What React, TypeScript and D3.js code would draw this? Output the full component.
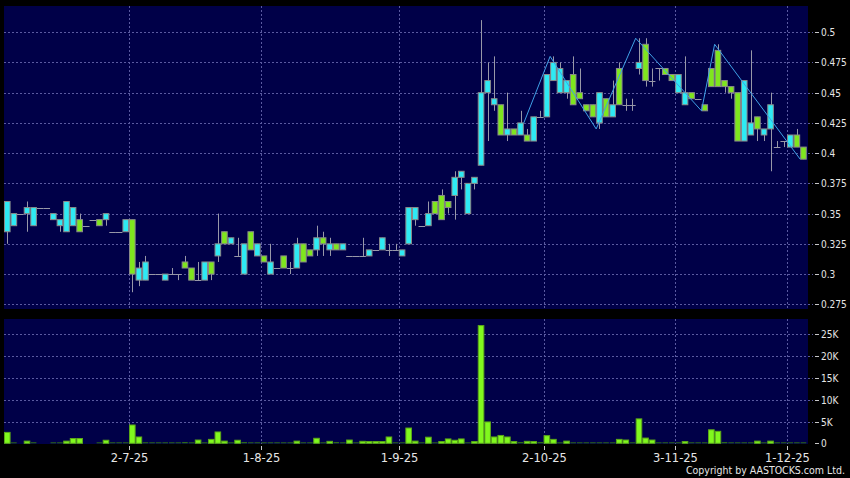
import React from "react";
import * as d3 from "d3";

const opens = [
  0.335, 0.34, 0.35, 0.35, 0.34, 0.355, 0.355, 0.345, 0.34, 0.335,
  0.34, 0.345, 0.34, 0.345, 0.345, 0.345, 0.335, 0.335, 0.335, 0.345,
  0.295, 0.295, 0.3, 0.3, 0.295, 0.3, 0.3, 0.31, 0.305, 0.295,
  0.295, 0.31, 0.315, 0.335, 0.325, 0.315, 0.3, 0.335, 0.315, 0.315,
  0.3, 0.305, 0.315, 0.305, 0.305, 0.325, 0.32, 0.32, 0.33, 0.32,
  0.325, 0.32, 0.315, 0.315, 0.315, 0.315, 0.32, 0.32, 0.32, 0.32,
  0.315, 0.325, 0.345, 0.34, 0.34, 0.36, 0.365, 0.36, 0.365, 0.38,
  0.35, 0.375, 0.39, 0.45, 0.44, 0.44, 0.415, 0.42, 0.415, 0.415,
  0.41, 0.43, 0.43, 0.46, 0.45, 0.45, 0.465, 0.45, 0.44, 0.44,
  0.425, 0.445, 0.43, 0.47, 0.44, 0.44, 0.47, 0.49, 0.46, 0.47,
  0.47, 0.465, 0.45, 0.44, 0.45, 0.445, 0.44, 0.47, 0.485, 0.46,
  0.455, 0.45, 0.41, 0.415, 0.43, 0.415, 0.42, 0.405, 0.41, 0.405,
  0.415, 0.405,
];
const highs = [
  0.36, 0.35, 0.35, 0.36, 0.355, 0.355, 0.355, 0.35, 0.345, 0.36,
  0.355, 0.35, 0.34, 0.345, 0.345, 0.35, 0.335, 0.335, 0.345, 0.345,
  0.31, 0.315, 0.3, 0.3, 0.3, 0.305, 0.3, 0.315, 0.305, 0.31,
  0.31, 0.31, 0.35, 0.335, 0.33, 0.33, 0.325, 0.335, 0.325, 0.315,
  0.325, 0.305, 0.315, 0.31, 0.33, 0.325, 0.32, 0.34, 0.335, 0.33,
  0.325, 0.325, 0.315, 0.315, 0.33, 0.32, 0.32, 0.33, 0.325, 0.325,
  0.32, 0.355, 0.355, 0.34, 0.36, 0.36, 0.37, 0.36, 0.385, 0.385,
  0.375, 0.38, 0.51, 0.475, 0.48, 0.44, 0.45, 0.42, 0.435, 0.42,
  0.43, 0.435, 0.465, 0.48, 0.475, 0.46, 0.48, 0.47, 0.44, 0.44,
  0.45, 0.445, 0.46, 0.475, 0.445, 0.445, 0.495, 0.495, 0.47, 0.47,
  0.47, 0.465, 0.465, 0.48, 0.45, 0.445, 0.44, 0.47, 0.49, 0.46,
  0.455, 0.45, 0.46, 0.485, 0.43, 0.42, 0.45, 0.41, 0.41, 0.415,
  0.42, 0.405,
];
const lows = [
  0.325, 0.34, 0.35, 0.335, 0.34, 0.355, 0.355, 0.345, 0.335, 0.335,
  0.34, 0.335, 0.34, 0.345, 0.34, 0.34, 0.335, 0.335, 0.335, 0.285,
  0.29, 0.295, 0.3, 0.3, 0.295, 0.3, 0.295, 0.305, 0.295, 0.295,
  0.295, 0.295, 0.31, 0.325, 0.325, 0.315, 0.3, 0.32, 0.315, 0.31,
  0.3, 0.305, 0.305, 0.3, 0.305, 0.31, 0.315, 0.315, 0.315, 0.315,
  0.32, 0.32, 0.315, 0.315, 0.315, 0.315, 0.32, 0.32, 0.315, 0.32,
  0.315, 0.325, 0.34, 0.34, 0.34, 0.35, 0.345, 0.35, 0.345, 0.37,
  0.35, 0.37, 0.39, 0.41, 0.435, 0.415, 0.41, 0.415, 0.415, 0.41,
  0.41, 0.43, 0.43, 0.46, 0.45, 0.445, 0.44, 0.445, 0.435, 0.43,
  0.42, 0.43, 0.43, 0.44, 0.435, 0.435, 0.465, 0.455, 0.455, 0.46,
  0.465, 0.46, 0.45, 0.44, 0.445, 0.445, 0.435, 0.455, 0.455, 0.45,
  0.445, 0.41, 0.41, 0.415, 0.41, 0.41, 0.385, 0.405, 0.405, 0.405,
  0.405, 0.395,
];
const closes = [
  0.36, 0.35, 0.35, 0.355, 0.355, 0.355, 0.355, 0.35, 0.345, 0.36,
  0.355, 0.335, 0.34, 0.345, 0.34, 0.35, 0.335, 0.335, 0.345, 0.3,
  0.305, 0.31, 0.3, 0.3, 0.3, 0.3, 0.3, 0.305, 0.295, 0.295,
  0.31, 0.3, 0.325, 0.325, 0.33, 0.315, 0.325, 0.32, 0.325, 0.31,
  0.31, 0.305, 0.305, 0.305, 0.325, 0.31, 0.315, 0.33, 0.325, 0.325,
  0.32, 0.325, 0.315, 0.315, 0.315, 0.32, 0.32, 0.33, 0.32, 0.32,
  0.32, 0.355, 0.355, 0.34, 0.35, 0.35, 0.345, 0.355, 0.38, 0.385,
  0.375, 0.38, 0.45, 0.46, 0.445, 0.415, 0.42, 0.415, 0.425, 0.41,
  0.43, 0.43, 0.465, 0.475, 0.47, 0.46, 0.44, 0.445, 0.435, 0.43,
  0.45, 0.43, 0.44, 0.44, 0.44, 0.44, 0.475, 0.46, 0.46, 0.47,
  0.465, 0.46, 0.465, 0.45, 0.445, 0.445, 0.435, 0.455, 0.455, 0.455,
  0.45, 0.41, 0.46, 0.425, 0.42, 0.42, 0.44, 0.405, 0.41, 0.415,
  0.405, 0.395,
];
// volume in thousands
const volumes = [
  2.5, 0.05, 0, 0.5, 0.25, 0, 0, 0.2, 0.05, 0.5,
  1.1, 1.1, 0, 0, 0.05, 0.7, 0.2, 0.05, 0.2, 4.2,
  1.45, 0.25, 0.05, 0.05, 0.05, 0.15, 0.05, 0.3, 0.05, 0.75,
  0.05, 0.9, 2.6, 0.5, 0.05, 0.7, 0.3, 0.05, 0.2, 0.05,
  0.05, 0.2, 0.05, 0.05, 0.5, 0.05, 0.05, 1.15, 0.2, 0.45,
  0.3, 0.05, 0.75, 0.05, 0.45, 0.4, 0.4, 0.4, 1.45, 0.05,
  0.05, 3.5, 0.5, 0.05, 1.4, 0.05, 0.4, 1.0, 0.7, 1.0,
  0.05, 0.4, 27.0, 4.9, 1.45, 1.8, 1.45, 0.4, 0.3, 0.45,
  0.4, 0.3, 1.75, 0.9, 0.2, 0.5, 0.05, 0.05, 0.2, 0.2,
  0.2, 0.05, 0.1, 0.9, 0.75, 0.2, 5.6, 1.2, 0.75, 0.05,
  0.05, 0.05, 0.05, 0.4, 0.05, 0.05, 0.05, 3.1, 2.75, 0.3,
  0.05, 0.05, 0.05, 0.05, 0.5, 0.05, 0.5, 0.05, 0.05, 0.05,
  0.2, 0.2,
];
const dateTickIndex = [19, 39, 60, 82, 102, 119];
const dateTickLabels = ["2-7-25", "1-8-25", "1-9-25", "2-10-25", "3-11-25", "1-12-25"];
const priceTicks = [0.275, 0.3, 0.325, 0.35, 0.375, 0.4, 0.425, 0.45, 0.475, 0.5];
const priceTickLabels = ["0.275", "0.3", "0.325", "0.35", "0.375", "0.4", "0.425", "0.45", "0.475", "0.5"];
const volTicks = [0, 5, 10, 15, 20, 25];
const volTickLabels = ["0", "5K", "10K", "15K", "20K", "25K"];
const zigzagIndex = [79, 83, 90, 96, 106, 108, 121];
const zigzagPrice = [0.425, 0.48, 0.42, 0.495, 0.435, 0.49, 0.395];

const W = 850;
const H = 478;
const PL = 4;
const PR = 808;
const P1T = 6;
const P1B = 309;
const P2T = 319;
const P2B = 444;
const N = closes.length;

const FONT = "'DejaVu Sans', 'Liberation Sans', sans-serif";

export default function App() {
  const xs = d3.scaleLinear().domain([0, N]).range([4, 4 + N * 6.58]);
  const y = d3.scaleLinear().domain([0.275, 0.5]).range([304.3, 32.2]);
  const yv = d3.scaleLinear().domain([0, 25]).range([443.3, 334.3]);
  const bw = 5.6;
  const cx = (i: number) => xs(i + 0.5);

  const zz = d3
    .line<number>()
    .x((_, k) => xs(zigzagIndex[k]))
    .y((p) => y(p));

  const cyan = "#2EEAF4";
  const green = "#7FE61E";
  const grid = "#5A5AA0";
  const txt = "#E6E6E6";

  const axisLabel = (lx: number, ly: number, s: string, key: string) => (
    <text key={key} transform={`translate(${lx},${ly}) scale(0.86,1)`} fill={txt} fontSize={10.5} fontFamily={FONT}>
      {s}
    </text>
  );

  return (
    <svg
      width={W}
      height={H}
      style={{ position: "absolute", left: 0, top: 0, display: "block" }}
      xmlns="http://www.w3.org/2000/svg"
    >
      <rect x={0} y={0} width={W} height={H} fill="#000000" />
      <rect x={PL} y={P1T} width={PR - PL} height={P1B - P1T} fill="#000048" />
      <rect x={PL} y={P2T} width={PR - PL} height={P2B - P2T} fill="#000048" />

      {/* price grid */}
      {priceTicks.map((t, k) => {
        const gy = Math.round(y(t)) + 0.5;
        return (
          <g key={"pt" + k}>
            <line x1={PL} x2={813} y1={gy} y2={gy} stroke={grid} strokeDasharray="2,2" />
            <line x1={815} x2={819} y1={gy} y2={gy} stroke="#C8C8C8" />
            {axisLabel(821, y(t) + 4, priceTickLabels[k], "pl" + k)}
          </g>
        );
      })}
      {volTicks.map((t, k) => {
        const gy = Math.round(yv(t)) + 0.5;
        return (
          <g key={"vt" + k}>
            {t > 0 && <line x1={PL} x2={813} y1={gy} y2={gy} stroke={grid} strokeDasharray="2,2" />}
            <line x1={815} x2={819} y1={gy} y2={gy} stroke="#C8C8C8" />
            {axisLabel(821, yv(t) + 4, volTickLabels[k], "vl" + k)}
          </g>
        );
      })}
      {dateTickIndex.map((di, k) => {
        const gx = Math.round(xs(di)) + 0.5;
        return (
          <g key={"dt" + k}>
            <line x1={gx} x2={gx} y1={P1T} y2={P1B} stroke={grid} strokeDasharray="2,2" />
            <line x1={gx} x2={gx} y1={P2T} y2={P2B} stroke={grid} strokeDasharray="2,2" />
            <line x1={gx} x2={gx} y1={446} y2={450} stroke="#C8C8C8" />
            <text x={gx} y={462} fill={txt} fontSize={11.5} fontFamily={FONT} textAnchor="middle">
              {dateTickLabels[k]}
            </text>
          </g>
        );
      })}

      {/* candles */}
      {closes.map((c, i) => {
        const o = opens[i];
        const h = highs[i];
        const l = lows[i];
        const x0 = cx(i);
        const wx = Math.round(x0) + 0.5;
        const top = y(Math.max(o, c));
        const bot = y(Math.min(o, c));
        const flat = o === c;
        return (
          <g key={"c" + i}>
            {h !== l && <line x1={wx} x2={wx} y1={y(h)} y2={y(l)} stroke="#9898A8" strokeWidth={1} />}
            {flat ? (
              <line x1={x0 - bw / 2 - 0.5} x2={x0 + bw / 2 + 0.5} y1={Math.round(top) + 0.5} y2={Math.round(top) + 0.5} stroke="#9898A8" />
            ) : (
              <rect
                x={x0 - bw / 2}
                y={top}
                width={bw}
                height={bot - top}
                fill={c > o ? cyan : green}
                stroke="#8A8A8A"
                strokeWidth={1}
              />
            )}
          </g>
        );
      })}

      <path d={zz(zigzagPrice) || ""} fill="none" stroke="#3FA0E6" strokeWidth={1} />

      {/* volume */}
      {volumes.map((v, i) => {
        if (v <= 0) return null;
        const top = yv(v);
        const hgt = Math.max(1, yv(0) - top);
        return (
          <rect
            key={"v" + i}
            x={cx(i) - bw / 2}
            y={yv(0) - hgt}
            width={bw}
            height={hgt}
            fill={hgt > 1.5 ? "#80F81E" : "#2E6A18"}
            stroke={hgt > 1.5 ? "#5CA818" : "none"}
            strokeWidth={1}
          />
        );
      })}

      <text
        x={845}
        y={474}
        fill={txt}
        fontSize={10}
        fontFamily={FONT}
        textAnchor="end"
        textLength={159}
        lengthAdjust="spacingAndGlyphs"
      >
        Copyright by AASTOCKS.com Ltd.
      </text>
    </svg>
  );
}
